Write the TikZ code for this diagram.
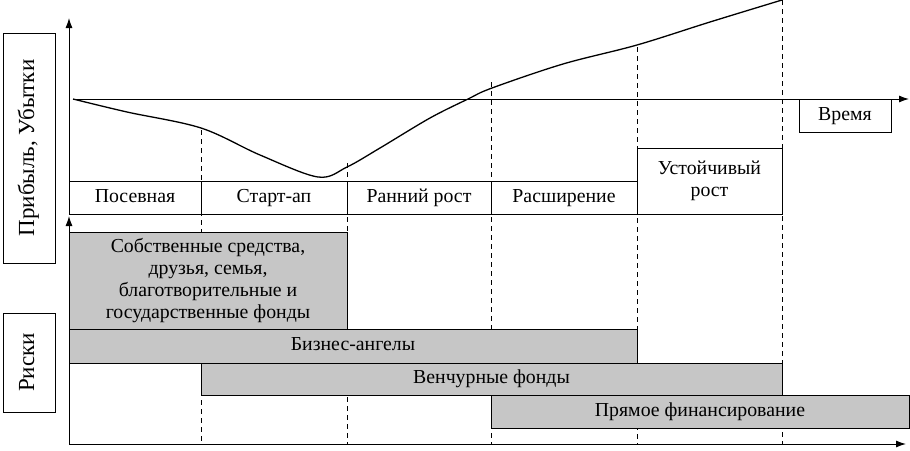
\documentclass[tikz,border=0pt]{standalone}
\usepackage{fontspec}
\setmainfont{Liberation Serif}
\usetikzlibrary{arrows.meta}
\begin{document}
\begin{tikzpicture}[x=1pt,y=-1pt,
  mbox/.style={draw,line width=1pt,inner sep=0pt,align=center,font=\fontsize{19.8}{21.8}\selectfont},
  box/.style={mbox,text height=13pt,text depth=4pt},
  gbox/.style={box,fill=gray!45},
  side/.style={rotate=90,text height=15pt,text depth=5pt,font=\fontsize{23}{26}\selectfont},
  axis/.style={line width=1pt,-{Latex[length=10pt,width=7pt]}},
  guide/.style={line width=1pt,dash pattern=on 5pt off 4pt}]
\useasboundingbox (0,0) rectangle (910,450);
% guide coordinates
\coordinate (d1t) at (201,130); \coordinate (d1b) at (201,444);
\coordinate (d2t) at (347,163); \coordinate (d2b) at (347,444);
\coordinate (d3t) at (491,82);  \coordinate (d3b) at (491,444);
\coordinate (d4t) at (637,47);  \coordinate (d4b) at (637,444);
\coordinate (d5t) at (782,0);   \coordinate (d5b) at (782,444);
\foreach \i in {1,...,5} \draw[guide] (d\i t) -- (d\i b);
% axes
\coordinate (o1) at (69,214); \coordinate (y1) at (69,18);
\coordinate (t0) at (73,99);  \coordinate (t1) at (909,99);
\coordinate (o2) at (69,444); \coordinate (y2) at (69,216);
\coordinate (x2) at (906,444);
\draw[axis] (o1) -- (y1);
\draw[axis] (t0) -- (t1);
\draw[axis] (o2) -- (y2);
\draw[axis] (o2) -- (x2);
% curve
\draw[line width=1.3pt] plot[smooth,tension=0.55] coordinates {(73,99) (127,112) (201,128) (260,155) (318,177) (347,167) (380,148) (430,118) (468,99) (492,88) (563,64) (637,45) (710,22) (782,0)};
% side labels
\node[mbox,minimum width=52pt,minimum height=230pt,fill=white] (lab1) at (29,148) {};
\node[side] at (lab1.center) {Прибыль, Убытки};
\node[mbox,minimum width=52pt,minimum height=99pt,fill=white] (lab2) at (29,362.5) {};
\node[side] at (lab2.center) {Риски};
% phases
\node[box,minimum width=132pt,minimum height=33pt] (p1) at (135,197.5) {Посевная};
\node[box,minimum width=146pt,minimum height=33pt] (p2) at (274,197.5) {Старт-ап};
\node[box,minimum width=144pt,minimum height=33pt] (p3) at (419,197.5) {Ранний рост};
\node[box,minimum width=146pt,minimum height=33pt] (p4) at (564,197.5) {Расширение};
\node[mbox,minimum width=145pt,minimum height=66pt,fill=white] (p5) at (709.5,181) {Устойчивый\\рост};
\node[box,minimum width=92pt,minimum height=33pt] (time) at (845,115.5) {Время};
% financing
\node[mbox,fill=gray!45,minimum width=278pt,minimum height=97pt] (g1) at (208,280.5) {Собственные средства,\\друзья, семья,\\благотворительные и\\государственные фонды};
\node[gbox,minimum width=568pt,minimum height=34pt] (g2) at (353,346) {Бизнес-ангелы};
\node[gbox,minimum width=581pt,minimum height=32pt] (g3) at (491.5,379) {Венчурные фонды};
\node[gbox,minimum width=418pt,minimum height=33pt] (g4) at (700,411.5) {Прямое финансирование};
\end{tikzpicture}
\end{document}
